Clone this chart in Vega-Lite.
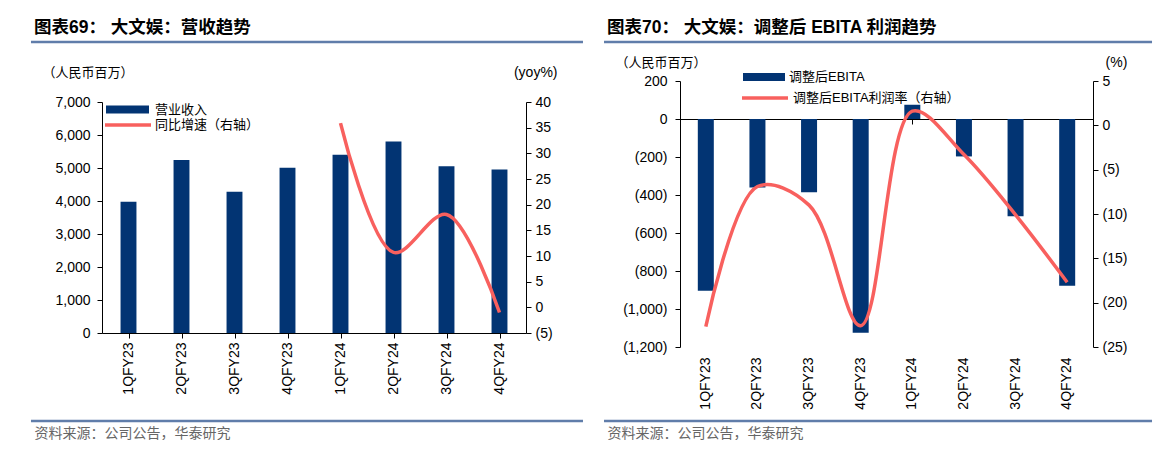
{
  "$schema": "https://vega.github.io/schema/vega-lite/v6.json",
  "background": "white",
  "padding": {"left": 29, "top": 19, "right": 0, "bottom": 0},
  "autosize": {"type": "pad"},
  "datasets": {
    "rev": [
      {"q": "1QFY23", "rev": 3975, "yoy": null},
      {"q": "2QFY23", "rev": 5240, "yoy": null},
      {"q": "3QFY23", "rev": 4280, "yoy": null},
      {"q": "4QFY23", "rev": 5005, "yoy": null},
      {"q": "1QFY24", "rev": 5403, "yoy": 35.9},
      {"q": "2QFY24", "rev": 5800, "yoy": 10.7},
      {"q": "3QFY24", "rev": 5056, "yoy": 18.1},
      {"q": "4QFY24", "rev": 4954, "yoy": -1.0}
    ],
    "ebita": [
      {"q": "1QFY23", "ebita": -904, "margin": -22.7},
      {"q": "2QFY23", "ebita": -360, "margin": -6.9},
      {"q": "3QFY23", "ebita": -386, "margin": -9.0},
      {"q": "4QFY23", "ebita": -1125, "margin": -22.6},
      {"q": "1QFY24", "ebita": 75, "margin": 1.6},
      {"q": "2QFY24", "ebita": -197, "margin": -3.3},
      {"q": "3QFY24", "ebita": -512, "margin": -10.1},
      {"q": "4QFY24", "ebita": -878, "margin": -17.7}
    ],
    "one": [{}]
  },
  "config": {
    "view": {"stroke": null},
    "axis": {"labelFont": "Liberation Sans", "labelFontSize": 14, "labelColor": "#000", "domainColor": "#000", "tickColor": "#000", "grid": false, "titleFontWeight": "normal", "titleColor": "#000"},
    "legend": {"labelFont": "Liberation Sans, Noto Sans CJK SC", "labelFontSize": 13, "labelColor": "#000", "padding": 0, "title": null, "labelLimit": 400},
    "title": {"font": "Liberation Sans, Noto Sans CJK SC", "fontSize": 17.5, "fontWeight": "bold", "color": "#000", "anchor": "start", "frame": "group"}
  },
  "resolve": {"scale": {"color": "independent", "stroke": "independent"}, "legend": {"color": "independent", "stroke": "independent"}},
  "concat": [
    {
      "width": 424,
      "height": 252,
      "title": {"text": "图表69：  大文娱：营收趋势", "dx": -68, "offset": 4},
      "resolve": {"scale": {"x": "independent", "y": "independent"}},
      "layer": [
        {
          "data": {"name": "rev"},
          "mark": {"type": "bar"},
          "encoding": {
            "x": {"field": "q", "type": "nominal", "sort": null,
              "scale": {"domain": ["1QFY23","2QFY23","3QFY23","4QFY23","1QFY24","2QFY24","3QFY24","4QFY24"], "paddingInner": 0.7, "paddingOuter": 0.35},
              "axis": {"orient": "bottom", "labelAngle": -90, "labelAlign": "right", "labelBaseline": "middle", "labelPadding": 9, "ticks": false, "domain": false,
                "title": "资料来源：公司公告，华泰研究", "titleAngle": 0, "titleAlign": "left", "titleBaseline": "middle", "titleX": -68, "titleY": 100,
                "titleFont": "Noto Sans CJK SC", "titleFontSize": 14, "titleColor": "#666"}},
            "y": {"field": "rev", "type": "quantitative",
              "scale": {"domain": [0, 7000], "nice": false, "range": [252, 21]},
              "axis": {"orient": "left", "values": [0,1000,2000,3000,4000,5000,6000,7000], "tickSize": 5, "labelPadding": 7,
                "labelExpr": "format(datum.value, ',')",
                "title": "（人民币百万）", "titleAngle": 0, "titleAlign": "left", "titleBaseline": "middle", "titleX": -60, "titleY": -9,
                "titleFont": "Noto Sans CJK SC", "titleFontSize": 13}},
            "color": {"datum": "营业收入", "type": "nominal", "scale": {"range": ["#023473"]},
              "legend": {"orient": "none", "legendX": 3, "legendY": 6, "symbolType": "M-1,-0.186H1V0.186H-1Z", "symbolSize": 1849, "labelOffset": 5, "symbolOpacity": 1}}
          }
        },
        {
          "data": {"name": "rev"},
          "mark": {"type": "line", "interpolate": "catmull-rom", "strokeWidth": 3.5},
          "encoding": {
            "x": {"field": "q", "type": "nominal", "sort": null,
              "scale": {"domain": ["1QFY23","2QFY23","3QFY23","4QFY23","1QFY24","2QFY24","3QFY24","4QFY24"], "paddingInner": 0.7, "paddingOuter": 0.35},
              "axis": {"orient": "bottom", "labels": false, "ticks": true, "bandPosition": 0, "tickSize": 5, "domain": true, "title": null}},
            "y": {"field": "yoy", "type": "quantitative",
              "scale": {"domain": [-5, 40], "nice": false, "range": [252, 21]},
              "axis": {"orient": "right", "values": [-5,0,5,10,15,20,25,30,35,40], "tickSize": 5, "labelPadding": 4,
                "labelExpr": "datum.value < 0 ? '(' + format(-datum.value, ',') + ')' : format(datum.value, ',')",
                "title": "(yoy%)", "titleAngle": 0, "titleAlign": "right", "titleBaseline": "middle", "titleX": 31, "titleY": -9,
                "titleFont": "Liberation Sans", "titleFontSize": 14}},
            "stroke": {"datum": "同比增速（右轴）", "type": "nominal", "scale": {"range": ["#f8605e"]},
              "legend": {"orient": "none", "legendX": 1, "legendY": 19, "symbolType": "stroke", "symbolSize": 2116, "symbolStrokeWidth": 3.5, "labelOffset": 2}}
          }
        },
        {
          "data": {"name": "one"},
          "mark": {"type": "rule", "color": "#607daa", "strokeWidth": 2.5},
          "encoding": {
            "x": {"datum": -0.1675, "type": "quantitative", "scale": {"domain": [0, 1], "nice": false, "zero": false}, "axis": null},
            "x2": {"datum": 1.1344},
            "y": {"datum": 1.1548, "type": "quantitative", "scale": {"domain": [0, 1], "nice": false, "zero": false}, "axis": null}
          }
        },
        {
          "data": {"name": "one"},
          "mark": {"type": "rule", "color": "#607daa", "strokeWidth": 2.5},
          "encoding": {
            "x": {"datum": -0.1675, "type": "quantitative", "scale": {"domain": [0, 1], "nice": false, "zero": false}, "axis": null},
            "x2": {"datum": 1.1344},
            "y": {"datum": -0.3492, "type": "quantitative", "scale": {"domain": [0, 1], "nice": false, "zero": false}, "axis": null}
          }
        }
      ]
    },
    {
      "width": 413,
      "height": 266,
      "title": {"text": "图表70：  大文娱：调整后 EBITA 利润趋势", "dx": -73, "offset": 4},
      "resolve": {"scale": {"x": "independent", "y": "independent"}},
      "layer": [
        {
          "data": {"name": "ebita"},
          "mark": {"type": "bar"},
          "encoding": {
            "x": {"field": "q", "type": "nominal", "sort": null,
              "scale": {"domain": ["1QFY23","2QFY23","3QFY23","4QFY23","1QFY24","2QFY24","3QFY24","4QFY24"], "paddingInner": 0.69, "paddingOuter": 0.345},
              "axis": {"orient": "bottom", "labelAngle": -90, "labelAlign": "right", "labelBaseline": "middle", "labelPadding": 10, "ticks": false, "domain": false,
                "title": "资料来源：公司公告，华泰研究", "titleAngle": 0, "titleAlign": "left", "titleBaseline": "middle", "titleX": -73, "titleY": 86,
                "titleFont": "Noto Sans CJK SC", "titleFontSize": 14, "titleColor": "#666"}},
            "y": {"field": "ebita", "type": "quantitative",
              "scale": {"domain": [-1200, 200], "nice": false},
              "axis": {"orient": "left", "values": [-1200,-1000,-800,-600,-400,-200,0,200], "tickSize": 5, "labelPadding": 8,
                "labelExpr": "datum.value < 0 ? '(' + format(-datum.value, ',') + ')' : format(datum.value, ',')",
                "title": "（人民币百万）", "titleAngle": 0, "titleAlign": "left", "titleBaseline": "middle", "titleX": -65, "titleY": -19,
                "titleFont": "Noto Sans CJK SC", "titleFontSize": 13}},
            "color": {"datum": "调整后EBITA", "type": "nominal", "scale": {"range": ["#023473"]},
              "legend": {"orient": "none", "legendX": 62, "legendY": -26, "symbolType": "M-1,-0.19H1V0.19H-1Z", "symbolSize": 1764, "labelOffset": 3, "symbolOpacity": 1}}
          }
        },
        {
          "data": {"name": "ebita"},
          "mark": {"type": "line", "interpolate": "catmull-rom", "strokeWidth": 3.5},
          "encoding": {
            "x": {"field": "q", "type": "nominal", "sort": null,
              "scale": {"domain": ["1QFY23","2QFY23","3QFY23","4QFY23","1QFY24","2QFY24","3QFY24","4QFY24"], "paddingInner": 0.69, "paddingOuter": 0.345},
              "axis": {"orient": "bottom", "offset": -228, "labels": false, "ticks": true, "bandPosition": 0, "tickSize": 5, "domain": true, "title": null}},
            "y": {"field": "margin", "type": "quantitative",
              "scale": {"domain": [-25, 5], "nice": false},
              "axis": {"orient": "right", "values": [-25,-20,-15,-10,-5,0,5], "tickSize": 5, "labelPadding": 4,
                "labelExpr": "datum.value < 0 ? '(' + format(-datum.value, ',') + ')' : format(datum.value, ',')",
                "title": "(%)", "titleAngle": 0, "titleAlign": "center", "titleBaseline": "middle", "titleX": 23, "titleY": -19,
                "titleFont": "Liberation Sans", "titleFontSize": 14}},
            "stroke": {"datum": "调整后EBITA利润率（右轴）", "type": "nominal", "scale": {"range": ["#f8605e"]},
              "legend": {"orient": "none", "legendX": 60, "legendY": -8, "symbolType": "stroke", "symbolSize": 2116, "symbolStrokeWidth": 3.5, "labelOffset": 3}}
          }
        },
        {
          "data": {"name": "one"},
          "mark": {"type": "rule", "color": "#607daa", "strokeWidth": 2.5},
          "encoding": {
            "x": {"datum": -0.184, "type": "quantitative", "scale": {"domain": [0, 1], "nice": false, "zero": false}, "axis": null},
            "x2": {"datum": 1.1429},
            "y": {"datum": 1.1466, "type": "quantitative", "scale": {"domain": [0, 1], "nice": false, "zero": false}, "axis": null}
          }
        },
        {
          "data": {"name": "one"},
          "mark": {"type": "rule", "color": "#607daa", "strokeWidth": 2.5},
          "encoding": {
            "x": {"datum": -0.184, "type": "quantitative", "scale": {"domain": [0, 1], "nice": false, "zero": false}, "axis": null},
            "x2": {"datum": 1.1429},
            "y": {"datum": -0.2782, "type": "quantitative", "scale": {"domain": [0, 1], "nice": false, "zero": false}, "axis": null}
          }
        }
      ]
    }
  ],
  "columns": 2,
  "align": "none",
  "spacing": 17
}
